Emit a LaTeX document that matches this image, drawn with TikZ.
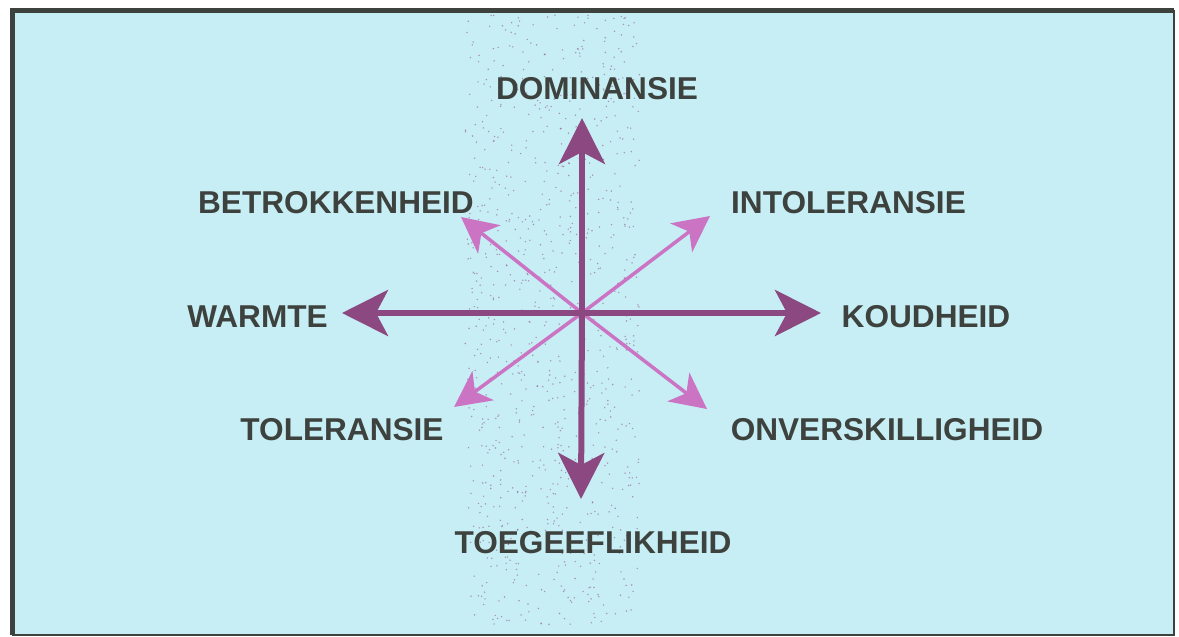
\documentclass[tikz,border=0pt]{standalone}
\usepackage{fontspec}
\setmainfont{Liberation Sans}
\usetikzlibrary{arrows.meta}

\definecolor{panel}{RGB}{198,238,244}
\definecolor{frame}{RGB}{62,66,62}
\definecolor{ink}{RGB}{62,66,62}
\definecolor{plum}{RGB}{140,72,128}
\definecolor{orchid}{RGB}{204,116,196}

\tikzset{
  axis/.style={plum,line width=6pt,-{Stealth[length=46pt,width=46pt,inset=12pt]}},
  diag/.style={orchid,line width=3.5pt,-{Stealth[length=36pt,width=36pt,inset=10pt]}},
  label/.style={ink,anchor=base,inner sep=0pt,font=\fontsize{31.6}{36}\selectfont\bfseries},
  speck/.style={plum,opacity=0.55}
}

\begin{document}
\begin{tikzpicture}[x=1pt,y=-1pt]

      \useasboundingbox (0,0) rectangle (1179,637);
      \fill[white] (0,0) rectangle (1179,637);
      \fill[panel] (12,10) rectangle (1174,635); % panel

      % speckled band
      \pgfmathsetseed{4242}
      \foreach \i in {1,...,900}
      \fill[speck] ({465+175*rnd},{15+610*rnd}) circle (0.8);

      \draw[frame,line width=5pt] (12,635) -- (12,10) -- (1174,10); % top-left
      \draw[frame,line width=2.5pt] (1174,10) -- (1174,635) -- (12,635); % bottom-right

      \coordinate (o) at (582,313);
      \coordinate (dom) at (582,118);
      \coordinate (toe) at (581,499);
      \coordinate (warm) at (342,313);
      \coordinate (koud) at (821,313);
      \coordinate (betr) at (461,217);
      \coordinate (intol) at (710,216);
      \coordinate (tol) at (454,407);
      \coordinate (onv) at (707,409);

      \foreach \t in {betr,intol,tol,onv}
      \draw[diag] (o) -- (\t);

      \foreach \t in {dom,toe,warm,koud}
      \draw[axis] (o) -- (\t);

      \node[label] (ldom) at (597,99.5) {DOMINANSIE};
      \node[label] (lbetr) at (336,213) {BETROKKENHEID};
      \node[label] (lintol) at (848.5,213) {INTOLERANSIE};
      \node[label] (lwarm) at (257.5,327) {WARMTE};
      \node[label] (lkoud) at (926,327) {KOUDHEID};
      \node[label] (ltol) at (342,440) {TOLERANSIE};
      \node[label] (lonv) at (887,440) {ONVERSKILLIGHEID};
      \node[label] (ltoe) at (593,553) {TOEGEEFLIKHEID};

    \end{tikzpicture}
\end{document}
